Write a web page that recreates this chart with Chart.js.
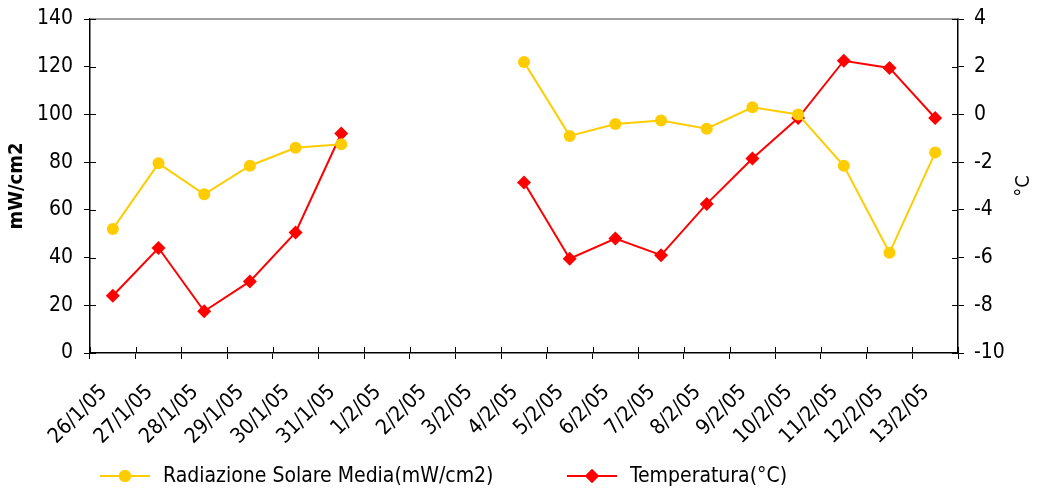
<!DOCTYPE html>
<html>
<head>
<meta charset="utf-8">
<script src="https://cdn.jsdelivr.net/npm/chart.js@4/dist/chart.umd.min.js"></script>
<style>
  html, body { margin: 0; padding: 0; background: #fff; }
  #wrap { width: 1042px; height: 495px; position: relative; }
</style>
</head>
<body>
<div id="wrap"><canvas id="chart"></canvas></div>
<script>
// date labels on the x axis
const dates = ['26/1/05', '27/1/05', '28/1/05', '29/1/05', '30/1/05', '31/1/05', '1/2/05', '2/2/05', '3/2/05',
  '4/2/05', '5/2/05', '6/2/05', '7/2/05', '8/2/05', '9/2/05', '10/2/05', '11/2/05', '12/2/05', '13/2/05'];

// mW/cm2 (left axis)
const radiazione = [52, 79.5, 66.5, 78.5, 86, 87.5, null, null, null,
  122, 91, 96, 97.5, 94, 103, 100, 78.5, 42, 84];

// °C (right axis)
const temperatura = [-7.6, -5.6, -8.25, -7.0, -4.95, -0.8, null, null, null,
  -2.85, -6.05, -5.2, -5.9, -3.75, -1.85, -0.15, 2.25, 1.95, -0.15];

const seriesNames = ['Radiazione Solare Media(mW/cm2)', 'Temperatura(°C)'];

const YELLOW = '#FFCC00';
const RED = '#FF0000';
const FONT = "'DejaVu Sans Condensed', 'DejaVu Sans', sans-serif";

// legend under the axis: line + marker + text, plus the rotated °C title
const legendPlugin = {
  id: 'bottomLegend',
  afterDraw(chart) {
    const ctx = chart.ctx;
    const y = 476;
    const items = [
      { x: 100, color: YELLOW, style: 'circle', text: seriesNames[0] },
      { x: 567, color: RED, style: 'rectRot', text: seriesNames[1] }
    ];
    ctx.save();
    items.forEach(it => {
      ctx.strokeStyle = it.color;
      ctx.lineWidth = 2;
      ctx.beginPath();
      ctx.moveTo(it.x, y);
      ctx.lineTo(it.x + 50, y);
      ctx.stroke();
      ctx.fillStyle = it.color;
      Chart.helpers.drawPoint(ctx, { pointStyle: it.style, radius: it.style === 'circle' ? 6 : 7, borderWidth: 0 }, it.x + 25, y);
      ctx.fill();
      ctx.fillStyle = '#000';
      ctx.font = '21px ' + FONT;
      ctx.textBaseline = 'middle';
      ctx.fillText(it.text, it.x + 63, y + 1);
    });

    // right axis title
    const a = chart.chartArea;
    ctx.translate(1024, (a.top + a.bottom) / 2);
    ctx.rotate(-Math.PI / 2);
    ctx.textAlign = 'center';
    ctx.textBaseline = 'middle';
    ctx.font = '20px ' + FONT;
    ctx.fillText('°C', 0, 0);
    ctx.restore();
  }
};

// grey top border of the plot area and inner halves of the tick marks
const framePlugin = {
  id: 'frameTop',
  beforeDatasetsDraw(chart) {
    const a = chart.chartArea;
    const ctx = chart.ctx;
    ctx.save();
    ctx.strokeStyle = '#808080';
    ctx.lineWidth = 1.5;
    ctx.beginPath();
    ctx.moveTo(a.left, a.top);
    ctx.lineTo(a.right, a.top);
    ctx.stroke();

    ctx.strokeStyle = '#000';
    ctx.lineWidth = 1;
    ctx.beginPath();
    const ys = chart.scales.y, y1 = chart.scales.y1, xs = chart.scales.x;
    ys.ticks.forEach((t, i) => {
      const p = Math.round(ys.getPixelForTick(i)) + 0.5;
      ctx.moveTo(a.left, p); ctx.lineTo(a.left + 6, p);
    });
    y1.ticks.forEach((t, i) => {
      const p = Math.round(y1.getPixelForTick(i)) + 0.5;
      ctx.moveTo(a.right, p); ctx.lineTo(a.right - 6, p);
    });
    for (let i = 0; i <= xs.ticks.length; i++) {
      const p = Math.round(xs.getPixelForValue(i - 0.5)) + 0.5;
      ctx.moveTo(p, a.bottom); ctx.lineTo(p, a.bottom - 6);
    }
    ctx.stroke();
    ctx.restore();
  }
};

new Chart(document.getElementById('chart'), {
  type: 'line',
  data: {
    labels: dates,
    datasets: [
      {
        label: seriesNames[0],
        data: radiazione,
        yAxisID: 'y',
        borderColor: YELLOW,
        backgroundColor: YELLOW,
        borderWidth: 2,
        pointStyle: 'circle',
        pointRadius: 6,
        pointBorderWidth: 0,
        tension: 0
      },
      {
        label: seriesNames[1],
        data: temperatura,
        yAxisID: 'y1',
        borderColor: RED,
        backgroundColor: RED,
        borderWidth: 2,
        pointStyle: 'rectRot',
        pointRadius: 7,
        pointBorderWidth: 0,
        tension: 0
      }
    ]
  },
  options: {
    responsive: true,
    maintainAspectRatio: false,
    animation: false,
    layout: { padding: { top: 19, left: 0, right: 0, bottom: 0 } },
    plugins: {
      legend: { display: false },
      tooltip: { enabled: false }
    },
    scales: {
      x: {
        offset: true,
        grid: { offset: true, drawOnChartArea: false, drawTicks: true, tickLength: 6, color: '#000' },
        border: { color: '#000', width: 1.5 },
        ticks: { color: '#000', font: { family: FONT, size: 21 }, minRotation: 45, maxRotation: 45, padding: 21, labelOffset: -9, autoSkip: false },
        afterFit(scale) { scale.height = 142; }
      },
      y: {
        position: 'left',
        min: 0,
        max: 140,
        ticks: { stepSize: 20, color: '#000', font: { family: FONT, size: 21 }, padding: 11 },
        grid: { drawOnChartArea: false, tickLength: 6, color: '#000' },
        border: { color: '#000', width: 1.5 },
        title: { display: true, text: 'mW/cm2', color: '#000', font: { family: FONT, size: 20, weight: 'bold' }, padding: { top: 5, bottom: 0 } },
        afterFit(scale) { scale.width = 90; scale.paddingTop = 0; scale.paddingBottom = 0; }
      },
      y1: {
        position: 'right',
        min: -10,
        max: 4,
        ticks: { stepSize: 2, color: '#000', font: { family: FONT, size: 21 }, padding: 10 },
        grid: { drawOnChartArea: false, tickLength: 6, color: '#000' },
        border: { color: '#000', width: 1.5 },
        afterFit(scale) { scale.width = 84; scale.paddingTop = 0; scale.paddingBottom = 0; }
      }
    }
  },
  plugins: [framePlugin, legendPlugin]
});
</script>
</body>
</html>
